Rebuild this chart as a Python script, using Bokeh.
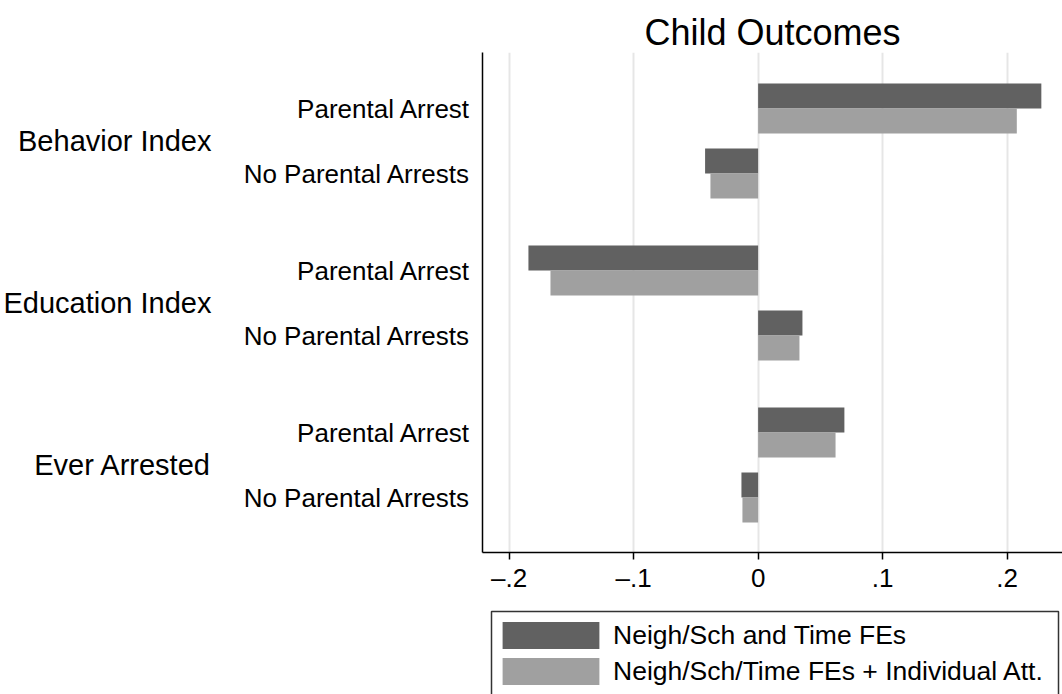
from bokeh.plotting import figure
from bokeh.models import Range1d, FixedTicker, Legend, LegendItem, LinearAxis
from bokeh.layouts import column
from bokeh.embed import file_html
from bokeh.resources import INLINE

title_text = "Child Outcomes"
groups = ["Behavior Index", "Education Index", "Ever Arrested"]
subgroups = ["Parental Arrest", "No Parental Arrests"]
series_names = ["Neigh/Sch and Time FEs", "Neigh/Sch/Time FEs + Individual Att."]
# values in order: (group, subgroup) pairs
series_a = [0.2275, -0.0426, -0.1845, 0.0356, 0.0693, -0.0134]
series_b = [0.2078, -0.0383, -0.1668, 0.0332, 0.0622, -0.0126]
x_ticks = [-0.2, -0.1, 0.0, 0.1, 0.2]
x_tick_labels = ["\u2013.2", "\u2013.1", "0", ".1", ".2"]
colors = ["#616161", "#a0a0a0"]

FONT = "Liberation Sans"
FIRST = 56
GROUP_STEP = 162
SUB_STEP = 65
BAR_H = 25

centers, center_labels, group_centers = [], [], []
for g, grp in enumerate(groups):
    cs = []
    for s, sub in enumerate(subgroups):
        c = FIRST + g * GROUP_STEP + s * SUB_STEP
        centers.append(c)
        center_labels.append(sub)
        cs.append(c)
    group_centers.append(sum(cs) / len(cs))

x0, x1 = -0.2214, 0.2445
p = figure(width=1062, height=600, output_backend="svg", toolbar_location=None,
           x_range=Range1d(x0, x1), y_range=Range1d(500, 0),
           min_border_left=482, min_border_right=0, min_border_top=52, min_border_bottom=48)
p.outline_line_color = None
p.background_fill_color = "white"
p.border_fill_color = "white"

p.title.text = title_text
p.title.align = "center"
p.title.text_font = FONT
p.title.text_font_size = "36px"
p.title.text_font_style = "normal"
p.title.text_color = "black"
p.title.standoff = 0

ra = p.hbar(y=[c - BAR_H / 2 for c in centers], height=BAR_H, left=0, right=series_a,
            fill_color=colors[0], line_color=None)
rb = p.hbar(y=[c + BAR_H / 2 for c in centers], height=BAR_H, left=0, right=series_b,
            fill_color=colors[1], line_color=None)

# x axis
p.xaxis.ticker = FixedTicker(ticks=x_ticks)
p.xaxis.major_label_overrides = {t: l for t, l in zip(x_ticks, x_tick_labels)}
p.xaxis.major_label_text_font = FONT
p.xaxis.major_label_text_font_size = "26px"
p.xaxis.major_label_text_color = "black"
p.xaxis.major_tick_out = 7
p.xaxis.major_tick_in = 0
p.xaxis.minor_tick_line_color = None
p.xaxis.axis_line_color = "black"
p.xaxis.axis_line_width = 1.5
p.xaxis.major_tick_line_color = "black"
p.xaxis.major_tick_line_width = 1.5
p.xaxis.major_label_standoff = 3

# inner y axis (subgroup labels)
p.yaxis.ticker = FixedTicker(ticks=centers)
p.yaxis.major_label_overrides = {c: l for c, l in zip(centers, center_labels)}
p.yaxis.major_label_text_font = FONT
p.yaxis.major_label_text_font_size = "26px"
p.yaxis.major_label_text_color = "black"
p.yaxis.major_tick_out = 0
p.yaxis.major_tick_in = 0
p.yaxis.minor_tick_line_color = None
p.yaxis.axis_line_color = "black"
p.yaxis.axis_line_width = 1.5
p.yaxis.major_label_standoff = 12

# outer y axis (group labels)
outer = LinearAxis(ticker=FixedTicker(ticks=group_centers),
                   major_label_overrides={c: g for c, g in zip(group_centers, groups)},
                   axis_line_color=None, major_tick_line_color=None, minor_tick_line_color=None,
                   major_tick_out=0, major_tick_in=0,
                   major_label_standoff=29, major_label_text_font=FONT,
                   major_label_text_font_size="29px", major_label_text_color="black")
p.add_layout(outer, "left")

p.xgrid.ticker = FixedTicker(ticks=x_ticks)
p.xgrid.grid_line_color = "#e6e6e6"
p.xgrid.grid_line_width = 2
p.ygrid.grid_line_color = None

# legend panel (frame aligned with the main plot's frame; 1 unit = 1 pixel)
q = figure(width=1062, height=94, output_backend="svg", toolbar_location=None,
           x_range=Range1d(0, 580), y_range=Range1d(94, 0),
           x_axis_location=None, y_axis_location=None,
           min_border_left=482, min_border_right=0, min_border_top=0, min_border_bottom=0)
q.outline_line_color = None
q.grid.grid_line_color = None
q.border_fill_color = "white"
q.background_fill_color = "white"
# legend box
q.quad(left=9, right=576, top=11, bottom=100, fill_color=None,
       line_color="#333333", line_width=1.5)
# legend-only renderers: zero-length bars outside the visible range
la = q.hbar(y=[-50], height=1, left=[0], right=[0], fill_color=colors[0], line_color=None)
lb = q.hbar(y=[-50], height=1, left=[0], right=[0], fill_color=colors[1], line_color=None)

legend = Legend(items=[LegendItem(label=series_names[0], renderers=[la]),
                       LegendItem(label=series_names[1], renderers=[lb])],
                location=(8, 6), orientation="vertical",
                glyph_width=121, glyph_height=34, label_height=27,
                label_text_font=FONT, label_text_font_size="26.5px", label_text_color="black",
                label_standoff=2, spacing=2, padding=0, margin=0,
                border_line_color=None, background_fill_alpha=0)
q.add_layout(legend, "center")

layout = column(p, q, spacing=0)
open("out.html", "w").write(file_html(layout, INLINE))
